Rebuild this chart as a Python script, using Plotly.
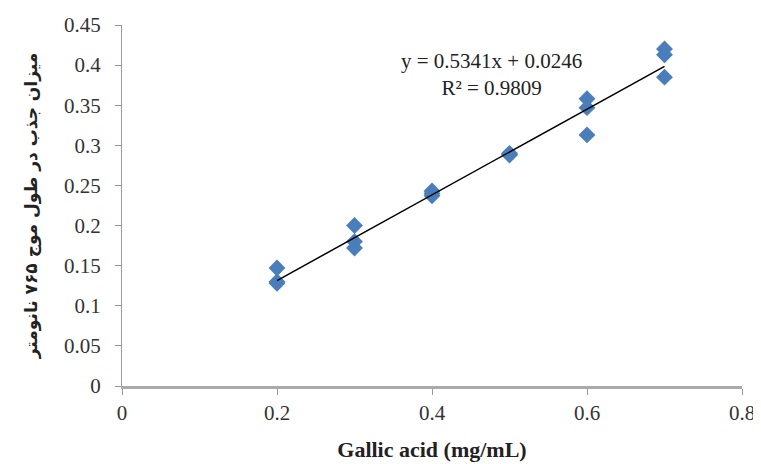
import plotly.graph_objects as go

# Data
gallic_acid = [0.2, 0.2, 0.2, 0.3, 0.3, 0.3, 0.4, 0.4, 0.4, 0.5, 0.5, 0.5, 0.6, 0.6, 0.6, 0.7, 0.7, 0.7]
absorbance = [0.147, 0.128, 0.130, 0.200, 0.180, 0.172, 0.243, 0.237, 0.240, 0.290, 0.288, 0.289, 0.358, 0.347, 0.313, 0.420, 0.413, 0.385]
slope = 0.5341
intercept = 0.0246
fit_x = [0.2, 0.7]
fit_y = [slope * v + intercept for v in fit_x]
x_ticks = [0, 0.2, 0.4, 0.6, 0.8]
y_ticks = [0, 0.05, 0.1, 0.15, 0.2, 0.25, 0.3, 0.35, 0.4, 0.45]

SERIF = "Liberation Serif"

fig = go.Figure()
fig.add_trace(go.Scatter(
    x=gallic_acid, y=absorbance, mode="markers",
    marker=dict(symbol="diamond", size=13, color="#4a7ebb"),
    showlegend=False, hoverinfo="skip"))
fig.add_trace(go.Scatter(
    x=fit_x, y=fit_y, mode="lines",
    line=dict(color="black", width=1.5),
    showlegend=False, hoverinfo="skip"))

fig.add_annotation(
    x=0.477, y=0.388, xref="x", yref="y",
    text=f"y = {slope}x + {intercept}<br>R² = 0.9809",
    showarrow=False, align="center",
    font=dict(family=SERIF, size=21, color="#222"))

# page body has an 8px default margin, so the figure is sized to fit the window
fig.update_layout(
    width=753, height=456,
    margin=dict(l=114, r=19, t=17, b=78),
    paper_bgcolor="white", plot_bgcolor="white",
    font=dict(family=SERIF, size=21, color="#333"),
    xaxis=dict(range=[0, 0.8], tickvals=x_ticks, ticktext=[str(v) for v in x_ticks],
               tickfont=dict(family=SERIF, size=21, color="#333"),
               ticklabeloverflow="allow", automargin=False,
               showgrid=False, zeroline=False, showline=True, linecolor="#aaa", linewidth=2.5,
               ticks="outside", ticklen=6, tickcolor="#999",
               title=dict(text="<b>Gallic acid (mg/mL)</b>", font=dict(family=SERIF, size=22, color="#222"), standoff=18)),
    yaxis=dict(range=[0, 0.45], tickvals=y_ticks, ticktext=[str(v) for v in y_ticks],
               tickfont=dict(family=SERIF, size=21, color="#333"),
               ticklabelstandoff=10, automargin=False,
               showgrid=False, zeroline=False, showline=True, linecolor="#999", linewidth=1.2,
               ticks="outside", ticklen=6, tickcolor="#999",
               title=dict(text="<b>میزان جذب در طول موج ۷۶۵ نانومتر</b>", font=dict(family="DejaVu Sans", size=17, color="#222"), standoff=22)),
)

fig.write_html("out.html")
